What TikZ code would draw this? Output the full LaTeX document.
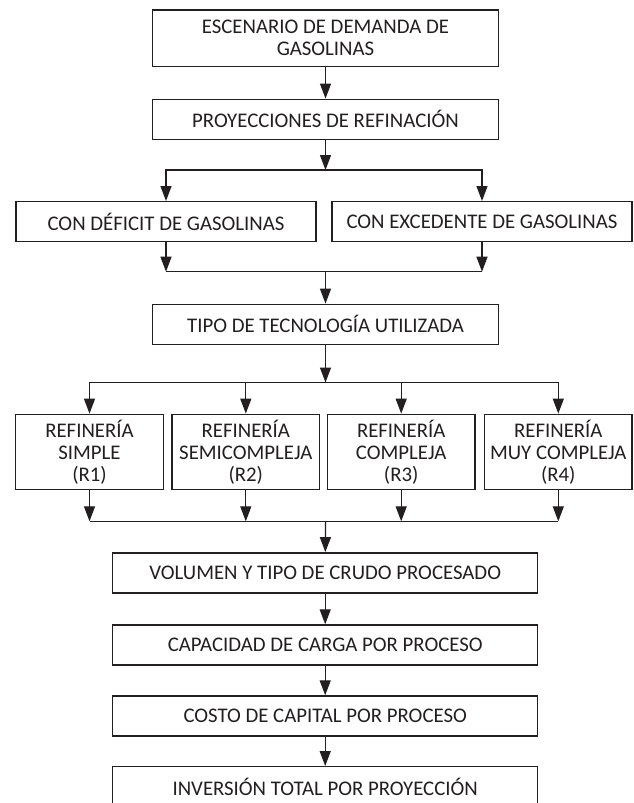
\documentclass[tikz,border=0pt]{standalone}
\usepackage{fontspec}
\setmainfont{Carlito}
\usetikzlibrary{arrows.meta}
\definecolor{ink}{RGB}{35,31,32}
\begin{document}
\begin{tikzpicture}[x=1pt,y=-1pt,
  box/.style={draw=ink, line width=1.4pt, align=center, inner sep=0pt, text=ink,
    font=\fontsize{20.8}{22}\selectfont},
  wide/.style={box, minimum width=345.6pt, minimum height=40pt},
  half/.style={box, minimum width=300pt, minimum height=40pt},
  quarter/.style={box, minimum width=147.6pt, minimum height=75pt},
  bottom/.style={box, minimum width=425pt, minimum height=40pt},
  link/.style={draw=ink, line width=1.3pt},
  arr/.style={link, -{Triangle[length=15pt,width=11pt]}}]
\useasboundingbox (0,0) rectangle (634,803);
\clip (0,0) rectangle (634,803);
\fill[white] (0,0) rectangle (634,803);

\node[wide, minimum height=56.7pt] (esc) at (325.5,38.3) {ESCENARIO DE DEMANDA DE\\GASOLINAS};
\node[wide] (proy) at (325.5,119.3) {PROYECCIONES DE REFINACIÓN};
\node[half] (def) at (166,221.7) {CON DÉFICIT DE GASOLINAS};
\node[half] (exc) at (482,221.7) {CON EXCEDENTE DE GASOLINAS};
\node[wide] (tipo) at (325.5,324.3) {TIPO DE TECNOLOGÍA UTILIZADA};
\node[quarter] (r1) at (89.5,451.8) {REFINERÍA\\SIMPLE\\(R1)};
\node[quarter] (r2) at (245.8,451.8) {REFINERÍA\\SEMICOMPLEJA\\(R2)};
\node[quarter] (r3) at (401.2,451.8) {REFINERÍA\\COMPLEJA\\(R3)};
\node[quarter] (r4) at (558.3,451.8) {REFINERÍA\\MUY COMPLEJA\\(R4)};
\node[bottom] (vol) at (325.2,572.8) {VOLUMEN Y TIPO DE CRUDO PROCESADO};
\node[bottom] (cap) at (325.2,645) {CAPACIDAD DE CARGA POR PROCESO};
\node[bottom] (cos) at (325.2,716) {COSTO DE CAPITAL POR PROCESO};
\node[bottom] (inv) at (325.2,786.7) {INVERSIÓN TOTAL POR PROYECCIÓN};

\coordinate (h1) at (325.5,170);
\coordinate (h2) at (325.5,271.7);
\coordinate (h3) at (325.5,382.5);
\coordinate (h4) at (325.5,521.3);

\draw[arr] (esc) -- (proy);
\draw[arr] (proy) -- (h1);
\draw[arr] (h1) -| (def);
\draw[arr] (h1) -| (exc);
\draw[arr] (def) -- (def |- h2);
\draw[arr] (exc) -- (exc |- h2);
\draw[link] (def |- h2) -- (exc |- h2);
\draw[arr] (h2) -- (tipo);
\draw[arr] (tipo) -- (h3);
\draw[arr] (h3) -| (r1);
\draw[arr] (h3) -| (r2);
\draw[arr] (h3) -| (r3);
\draw[arr] (h3) -| (r4);
\draw[arr] (r1) -- (r1 |- h4);
\draw[arr] (r2) -- (r2 |- h4);
\draw[arr] (r3) -- (r3 |- h4);
\draw[arr] (r4) -- (r4 |- h4);
\draw[link] (r1 |- h4) -- (r4 |- h4);
\draw[arr] (h4) -- (vol);
\draw[arr] (vol) -- (cap);
\draw[arr] (cap) -- (cos);
\draw[arr] (cos) -- (inv);
\end{tikzpicture}
\end{document}
